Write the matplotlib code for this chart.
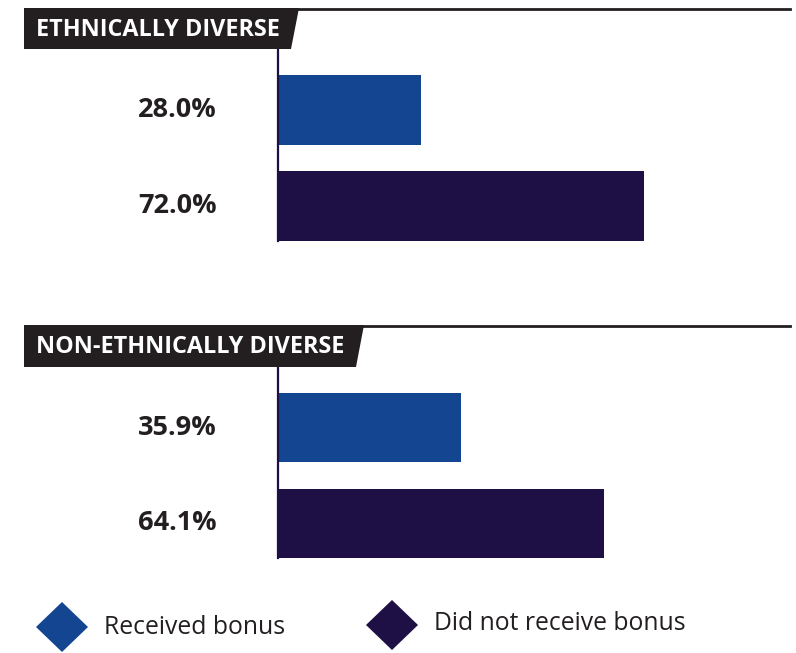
import matplotlib.pyplot as plt
from matplotlib.patches import Polygon

# Datos
grupos = ["ETHNICALLY DIVERSE", "NON-ETHNICALLY DIVERSE"]
recibio = [28.0, 35.9]       # % que recibió bonus
no_recibio = [72.0, 64.1]    # % que no recibió bonus
leyenda = ["Received bonus", "Did not receive bonus"]

azul = "#134591"
morado = "#1e0f45"
negro = "#231f20"

W, H = 796, 653
fig = plt.figure(figsize=(W / 100, H / 100), dpi=100)
fuente = "Open Sans"


def px(x, y):
    # pixeles (origen arriba-izquierda) -> coordenadas de figura
    return x / W, 1 - y / H


# Geometría de cada panel: (cabecera arriba, abajo, esquina sup, esquina inf, eje abajo)
paneles = [
    dict(top=8, bot=49, xr_top=299, xr_bot=291, eje_bot=241),
    dict(top=325, bot=367, xr_top=364, xr_bot=356, eje_bot=558),
]

for i, p in enumerate(paneles):
    # Cabecera negra con borde inclinado
    pts = [px(24, p["top"]), px(p["xr_top"], p["top"]),
           px(p["xr_bot"], p["bot"]), px(24, p["bot"])]
    fig.patches.append(Polygon(pts, closed=True, transform=fig.transFigure,
                               facecolor=negro, edgecolor="none"))
    x0, y0 = px(p["xr_top"] - 2, p["top"] + 1)
    x1, _ = px(790, p["top"] + 1)
    fig.add_artist(plt.Line2D([x0, x1], [y0, y0], color=negro, lw=2,
                              transform=fig.transFigure))
    tx, ty = px(36, (p["top"] + p["bot"]) / 2 + 1)
    fig.text(tx, ty, grupos[i], color="white", fontsize=16.8, fontweight="bold",
             family=fuente, va="center", ha="left")

    # Eje con las dos barras
    ax_l, ax_b = px(278, p["eje_bot"])
    _, ax_t = px(278, p["bot"])
    ax = fig.add_axes([ax_l, ax_b, 509 / W, ax_t - ax_b])
    valores = [recibio[i], no_recibio[i]]
    ax.barh([0, 1], valores, height=0.725, color=[azul, morado])
    ax.set_xlim(0, 100)
    ax.set_ylim(1.3627, -0.632)
    ax.axis("off")
    ax.plot([0, 0], [-0.632, 1.3627], color=morado, lw=1.6, clip_on=False)

    # Etiquetas de porcentaje
    for j, v in enumerate(valores):
        ax.text(-12.0, j, f"{v:.1f}%", ha="right", va="center", fontsize=19.5,
                fontweight="bold", family=fuente, color=negro)

# Leyenda con rombos
rombos = [(62, 627, azul, 104, 628), (392, 625, morado, 434, 623)]
for (cx, cy, col, lx, ly), nombre in zip(rombos, leyenda):
    pts = [px(cx - 26, cy), px(cx, cy - 25), px(cx + 26, cy), px(cx, cy + 25)]
    fig.patches.append(Polygon(pts, closed=True, transform=fig.transFigure,
                               facecolor=col, edgecolor="none"))
    x, y = px(lx, ly)
    fig.text(x, y, nombre, fontsize=17.8, family=fuente, color=negro,
             ha="left", va="center")

fig.savefig("out.png", dpi=100, facecolor="white")
